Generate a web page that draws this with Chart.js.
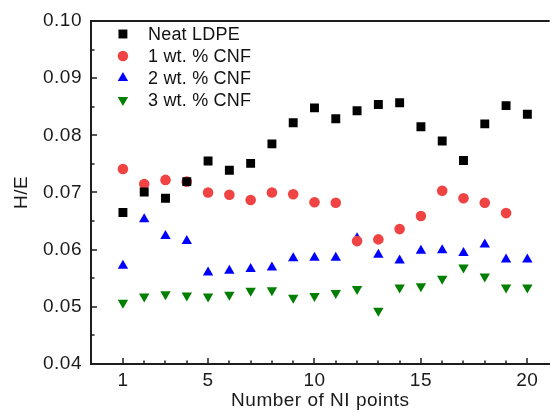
<!DOCTYPE html>
<html><head><meta charset="utf-8">
<script src="https://cdn.jsdelivr.net/npm/chart.js@4/dist/chart.umd.min.js"></script>
<style>html,body{margin:0;padding:0;background:#fff}#wrap{width:556px;height:412px}</style>
</head><body><div id="wrap"><canvas id="c" width="556" height="412"></canvas></div>
<script>
const niPoints = [1,2,3,4,5,6,7,8,9,10,11,12,13,14,15,16,17,18,19,20];
const neatLDPE = [0.0665,0.0701,0.0690,0.0719,0.0755,0.0739,0.0751,0.0785,0.0822,0.0848,0.0829,0.0843,0.0854,0.0857,0.0815,0.0790,0.0756,0.0820,0.0852,0.0837];
const cnf1 = [0.0741,0.0715,0.0722,0.0719,0.0700,0.0696,0.0687,0.0700,0.0697,0.0683,0.0682,0.0615,0.0618,0.0636,0.0659,0.0703,0.0690,0.0682,0.0664,null];
const cnf2 = [0.0572,0.0653,0.0624,0.0615,0.0560,0.0563,0.0566,0.0569,0.0585,0.0586,0.0586,0.0620,0.0591,0.0581,0.0598,0.0599,0.0594,0.0609,0.0583,0.0583];
const cnf3 = [0.0507,0.0518,0.0522,0.0520,0.0518,0.0521,0.0528,0.0529,0.0516,0.0519,0.0524,0.0531,0.0493,0.0534,0.0536,0.0549,0.0569,0.0553,0.0534,0.0534];
const seriesNames = ['Neat LDPE','1 wt. % CNF','2 wt. % CNF','3 wt. % CNF'];
const yTickValues = [0.04,0.05,0.06,0.07,0.08,0.09,0.10];
const xMajorTicks = [1,5,10,15,20];

const FONT = "'Liberation Sans', Arial, Helvetica, sans-serif";
const AXIS = '#1e1e1e';

function pts(arr){ return niPoints.map((x,i)=>({x:x,y:arr[i]})).filter(p=>p.y!==null); }

const styles = [
  {color:'#000000', pointStyle:'rect', radius:6.3, rotation:0},
  {color:'#F04444', pointStyle:'circle', radius:5.3, rotation:0},
  {color:'#0000FF', pointStyle:'triangle', radius:6, rotation:0},
  {color:'#007F00', pointStyle:'triangle', radius:6, rotation:180}
];
const seriesData = [neatLDPE, cnf1, cnf2, cnf3];

const datasets = seriesData.map((d,i)=>({
  label: seriesNames[i],
  data: pts(d),
  showLine:false,
  pointStyle: styles[i].pointStyle,
  pointRotation: styles[i].rotation,
  pointRadius: styles[i].radius,
  pointHoverRadius: styles[i].radius,
  pointBackgroundColor: styles[i].color,
  pointBorderColor: styles[i].color,
  pointBorderWidth: 0,
  backgroundColor: styles[i].color,
  borderColor: styles[i].color
}));

function drawMarker(ctx, st, x, y){
  ctx.save();
  ctx.fillStyle = st.color;
  if (Chart.helpers && Chart.helpers.drawPoint){
    Chart.helpers.drawPoint(ctx, {pointStyle: st.pointStyle, radius: st.radius, rotation: st.rotation, borderWidth: 0}, x, y);
  } else {
    ctx.beginPath();
    if (st.pointStyle==='rect'){ const s=st.radius*Math.SQRT1_2; ctx.rect(x-s,y-s,2*s,2*s); }
    else if (st.pointStyle==='circle'){ ctx.arc(x,y,st.radius,0,Math.PI*2); }
    else { const r=st.radius, sg = st.rotation?-1:1; ctx.moveTo(x,y-sg*r); ctx.lineTo(x+r*0.866,y+sg*r/2); ctx.lineTo(x-r*0.866,y+sg*r/2); ctx.closePath(); }
    ctx.fill();
  }
  ctx.restore();
}

const spacingPlugin = {
  id:'spacing',
  beforeInit(chart){ try { chart.ctx.letterSpacing = '0.5px'; } catch(e){} },
  beforeLayout(chart){ try { chart.ctx.letterSpacing = '0.5px'; } catch(e){} },
  beforeDraw(chart){ try { chart.ctx.letterSpacing = '0.5px'; } catch(e){} }
};

const framePlugin = {
  id:'frame',
  afterDraw(chart){
    const ctx = chart.ctx, a = chart.chartArea, xs = chart.scales.x, ys = chart.scales.y;
    ctx.save();
    ctx.strokeStyle = AXIS;
    ctx.lineWidth = 2;
    ctx.beginPath(); ctx.moveTo(a.left-1, a.top); ctx.lineTo(a.right, a.top); ctx.stroke();
    ctx.lineWidth = 1.5;
    niPoints.forEach(v=>{
      const px = Math.round(xs.getPixelForValue(v));
      const len = xMajorTicks.includes(v) ? 6 : 3.5;
      ctx.beginPath(); ctx.moveTo(px, a.bottom); ctx.lineTo(px, a.bottom-len); ctx.stroke();
    });
    yTickValues.forEach((v,i)=>{
      const py = Math.round(ys.getPixelForValue(v));
      ctx.beginPath(); ctx.moveTo(a.left, py); ctx.lineTo(a.left+6, py); ctx.stroke();
      if (i < yTickValues.length-1){
        const mid = (v + yTickValues[i+1])/2;
        const pm = Math.round(ys.getPixelForValue(mid));
        ctx.beginPath(); ctx.moveTo(a.left, pm); ctx.lineTo(a.left+3.5, pm); ctx.stroke();
      }
    });
    const lx = xs.getPixelForValue(1), ly0 = 34, dy = 22;
    try { ctx.letterSpacing = '0.2px'; } catch(e){}
    ctx.font = '18px ' + FONT;
    ctx.textBaseline = 'middle';
    ctx.textAlign = 'left';
    seriesNames.forEach((name,i)=>{
      const y = ly0 + i*dy;
      drawMarker(ctx, styles[i], lx, y);
      ctx.fillStyle = '#111';
      ctx.fillText(name, 148, y+1);
    });
    ctx.restore();
  }
};

new Chart(document.getElementById('c'), {
  type:'scatter',
  data:{datasets},
  options:{
    responsive:false,
    devicePixelRatio:1,
    animation:false,
    layout:{padding:{top:21,right:0,left:0,bottom:0}},
    plugins:{legend:{display:false}, tooltip:{enabled:false}},
    scales:{
      x:{
        type:'linear', min:-0.5, max:21.05,
        afterBuildTicks(s){ s.ticks = niPoints.map(v=>({value:v})); },
        afterFit(s){ s.height = 48; },
        grid:{display:false, drawTicks:false},
        border:{display:true, color:AXIS, width:2},
        ticks:{autoSkip:false, maxRotation:0, padding:5, color:'#1a1a1a',
          font:{size:19, family:FONT},
          callback:(v)=> xMajorTicks.includes(v) ? String(v) : ''},
        title:{display:true, text:'Number of NI points', color:'#1a1a1a',
          font:{size:19, family:FONT}, padding:{top:0,bottom:0}}
      },
      y:{
        type:'linear', min:0.04, max:0.10,
        afterBuildTicks(s){ s.ticks = yTickValues.map(v=>({value:v})); },
        afterFit(s){ s.width = 91; },
        grid:{display:false, drawTicks:false},
        border:{display:true, color:AXIS, width:2},
        ticks:{padding:9, color:'#1a1a1a', font:{size:19, family:FONT},
          callback:(v)=> Number(v).toFixed(2)},
        title:{display:true, text:'H/E', color:'#1a1a1a',
          font:{size:19, family:FONT}, padding:{top:10,bottom:0}}
      }
    }
  },
  plugins:[spacingPlugin, framePlugin]
});
</script>
</body></html>
